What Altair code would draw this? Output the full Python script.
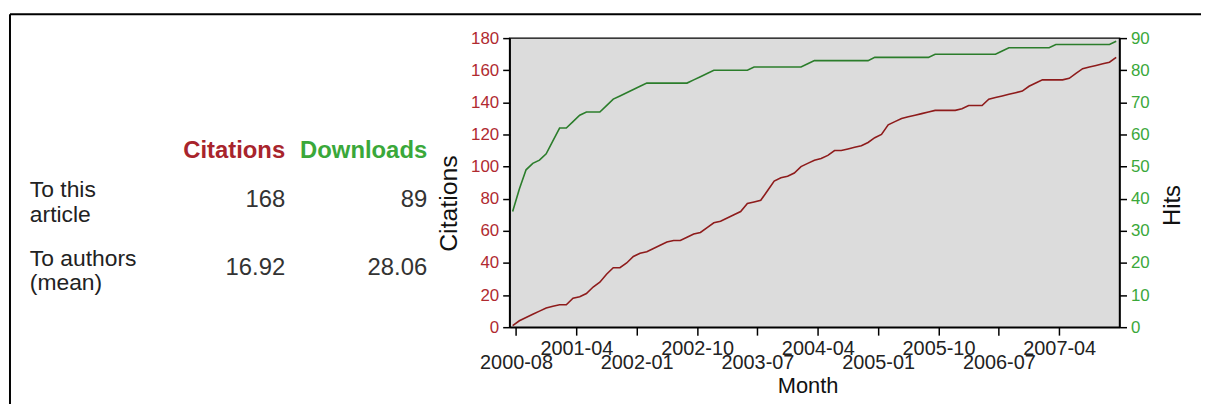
import json
import altair as alt
import pandas as pd

# ---------------- data ----------------
month_index = list(range(91))

citations = [
    1, 4, 6, 8, 10, 12, 13, 14, 14, 18,
    19, 21, 25, 28, 33, 37, 37, 40, 44, 46,
    47, 49, 51, 53, 54, 54, 56, 58, 59, 62,
    65, 66, 68, 70, 72, 77, 78, 79, 85, 91,
    93, 94, 96, 100, 102, 104, 105, 107, 110, 110,
    111, 112, 113, 115, 118, 120, 126, 128, 130, 131,
    132, 133, 134, 135, 135, 135, 135, 136, 138, 138,
    138, 142, 143, 144, 145, 146, 147, 150, 152, 154,
    154, 154, 154, 155, 158, 161, 162, 163, 164, 165,
    168,
]

hits = [
    36, 43, 49, 51, 52, 54, 58, 62, 62, 64,
    66, 67, 67, 67, 69, 71, 72, 73, 74, 75,
    76, 76, 76, 76, 76, 76, 76, 77, 78, 79,
    80, 80, 80, 80, 80, 80, 81, 81, 81, 81,
    81, 81, 81, 81, 82, 83, 83, 83, 83, 83,
    83, 83, 83, 83, 84, 84, 84, 84, 84, 84,
    84, 84, 84, 85, 85, 85, 85, 85, 85, 85,
    85, 85, 85, 86, 87, 87, 87, 87, 87, 87,
    87, 88, 88, 88, 88, 88, 88, 88, 88, 88,
    89,
]

tick_labels = ["2000-08", "2001-04", "2002-01", "2002-10", "2003-07",
               "2004-04", "2005-01", "2005-10", "2006-07", "2007-04"]

header_labels = ["Citations", "Downloads"]
row_labels = ["To this\narticle", "To authors\n(mean)"]
citation_stats = ["168", "16.92"]
download_stats = ["89", "28.06"]

df = pd.DataFrame({"m": month_index, "Citations": citations, "Hits": hits})

# ---------------- styling ----------------
FONT = "Liberation Sans"
RED_LINE = "#8e1b1b"
GREEN_LINE = "#2b7d2b"
RED_TXT = "#b02a30"
GREEN_TXT = "#3aa83a"

tick_vals = [0.5 + 9 * k for k in range(len(tick_labels))]
label_expr = json.dumps(tick_labels) + "[round((datum.value - 0.5) / 9)]"

x_enc = alt.X(
    "m:Q",
    scale=alt.Scale(domain=[-0.45, 90.5], nice=False, zero=False),
    axis=alt.Axis(
        values=tick_vals,
        labelExpr=label_expr,
        title="Month",
        grid=False,
        domainColor="#000",
        domainWidth=1.5,
        tickColor="#000",
        tickSize=8,
        tickWidth=1.5,
        labelFont=FONT,
        labelFontSize=20,
        labelColor="#222",
        labelPadding={"condition": {"test": "round((datum.value - 0.5) / 9) % 2 == 0", "value": 18},
                      "value": 3},
        labelOverlap=False,
        labelFlush=False,
        titleFont=FONT,
        titleFontSize=22,
        titleFontWeight="normal",
        titleColor="#111",
        titleX=300,
        titleY=66,
        titleBaseline="alphabetic",
    ),
)

cit_line = alt.Chart(df).mark_line(color=RED_LINE, strokeWidth=1.6).encode(
    x=x_enc,
    y=alt.Y(
        "Citations:Q",
        scale=alt.Scale(domain=[0, 180], nice=False),
        axis=alt.Axis(
            orient="left",
            values=list(range(0, 181, 20)),
            grid=False,
            title="Citations",
            domainColor="#000",
            domainWidth=1.5,
            tickColor="#000",
            tickSize=7,
            tickWidth=1.5,
            labelFont=FONT,
            labelFontSize=17,
            labelColor=RED_TXT,
            labelPadding=4,
            titleFont=FONT,
            titleFontSize=25,
            titleFontWeight="normal",
            titleColor="#111",
            titleAngle=270,
            titleX=-53,
            titleY=166,
            titleAlign="center",
            titleBaseline="alphabetic",
        ),
    ),
)

hits_line = alt.Chart(df).mark_line(color=GREEN_LINE, strokeWidth=1.6).encode(
    x=x_enc,
    y=alt.Y(
        "Hits:Q",
        scale=alt.Scale(domain=[0, 90], nice=False),
        axis=alt.Axis(
            orient="right",
            values=list(range(0, 91, 10)),
            grid=False,
            title="Hits",
            domainColor="#000",
            domainWidth=1.5,
            tickColor="#000",
            tickSize=7,
            tickWidth=1.5,
            labelFont=FONT,
            labelFontSize=17,
            labelColor=GREEN_TXT,
            labelPadding=4,
            titleFont=FONT,
            titleFontSize=24,
            titleFontWeight="normal",
            titleColor="#111",
            titleAngle=270,
            titleX=60,
            titleY=168,
            titleAlign="center",
            titleBaseline="alphabetic",
        ),
    ),
)


def text_item(s, x, y, **kw):
    return alt.Chart(pd.DataFrame({"t": [s]})).mark_text(
        font=FONT, baseline="alphabetic", lineBreak="\n", **kw
    ).encode(x=alt.value(x), y=alt.value(y), text="t:N")


table_layers = [
    text_item(header_labels[0], -226, 121, align="right", fontSize=24, fontWeight="bold", color="#a8242c"),
    text_item(header_labels[1], -83, 121, align="right", fontSize=24, fontWeight="bold", color=GREEN_TXT),
    text_item(row_labels[0], -483, 160, align="left", fontSize=23, lineHeight=25, color="#222"),
    text_item(row_labels[1], -483, 229, align="left", fontSize=23, lineHeight=25, color="#222"),
    text_item(citation_stats[0], -226, 170, align="right", fontSize=24, color="#333"),
    text_item(citation_stats[1], -226, 238, align="right", fontSize=24, color="#333"),
    text_item(download_stats[0], -83, 170, align="right", fontSize=24, color="#333"),
    text_item(download_stats[1], -83, 238, align="right", fontSize=24, color="#333"),
]

one = pd.DataFrame({"a": [0]})
frame_top = alt.Chart(one).mark_rule(color="#000", strokeWidth=2).encode(
    x=alt.value(-503), x2=alt.value(700), y=alt.value(-24))
frame_left = alt.Chart(one).mark_rule(color="#000", strokeWidth=2).encode(
    x=alt.value(-503), y=alt.value(-24), y2=alt.value(380))

chart = (
    alt.layer(cit_line, hits_line, *table_layers, frame_top, frame_left)
    .resolve_scale(y="independent")
    .properties(
        width=614,
        height=291,
        autosize=alt.AutoSizeParams(type="none"),
        padding={"left": 505, "top": 29, "right": 82, "bottom": 76},
        background="#ffffff",
    )
    .configure_view(fill="#dcdcdc", stroke="#000", strokeWidth=1.5)
)

chart.save("out.html", embed_options={"renderer": "svg", "actions": False})
